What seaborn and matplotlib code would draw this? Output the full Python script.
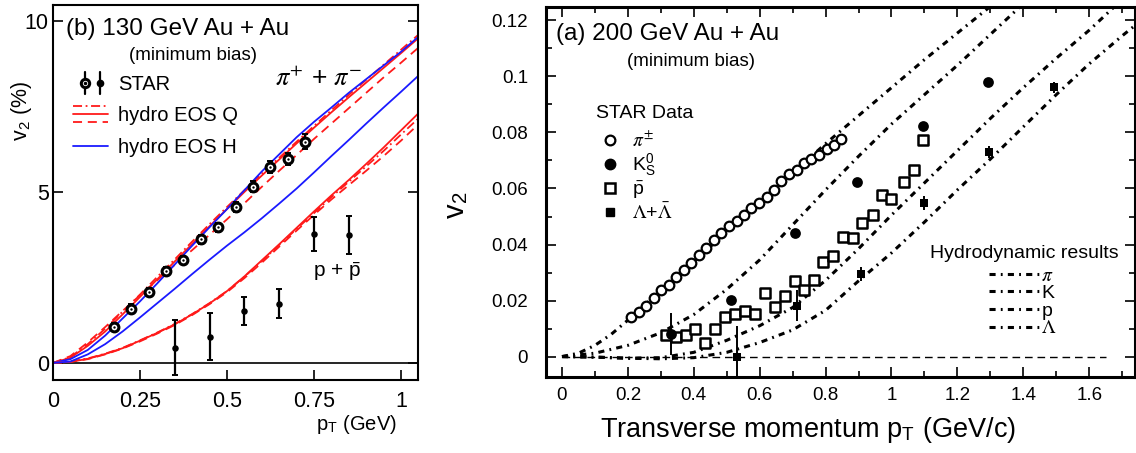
import matplotlib
matplotlib.use("Agg")
import matplotlib.pyplot as plt
import seaborn as sns
from matplotlib.lines import Line2D
from matplotlib.legend_handler import HandlerBase
from matplotlib.ticker import MultipleLocator, FuncFormatter

# ---------------- Panel (b): 130 GeV Au+Au ----------------
pi130_pt = [0.175, 0.225, 0.275, 0.325, 0.375, 0.425, 0.475, 0.525, 0.575, 0.625, 0.675, 0.725]
pi130_v2 = [1.04, 1.59, 2.08, 2.70, 3.00, 3.62, 3.97, 4.56, 5.16, 5.74, 5.96, 6.47]
pi130_err = [0.12, 0.12, 0.12, 0.12, 0.12, 0.13, 0.13, 0.14, 0.15, 0.17, 0.18, 0.22]
p130_pt = [0.35, 0.45, 0.55, 0.65, 0.75, 0.85]
p130_v2 = [0.45, 0.77, 1.52, 1.73, 3.77, 3.74]
p130_err = [0.80, 0.68, 0.41, 0.43, 0.49, 0.56]

grid130 = [0, 0.05, 0.1, 0.15, 0.2, 0.25, 0.3, 0.35, 0.4, 0.45, 0.5,
           0.55, 0.6, 0.65, 0.7, 0.75, 0.8, 0.85, 0.9, 0.95, 1.0, 1.05]
eosH_pi = [0, 0.11, 0.38, 0.80, 1.30, 1.80, 2.33, 2.88, 3.43, 3.97, 4.50,
           5.05, 5.60, 6.10, 6.60, 7.05, 7.47, 7.90, 8.30, 8.70, 9.10, 9.54]
eosQ_pi_solid = [0, 0.15, 0.50, 0.92, 1.42, 1.93, 2.45, 2.97, 3.48, 4.00, 4.50,
                 5.00, 5.48, 5.95, 6.42, 6.88, 7.33, 7.77, 8.20, 8.63, 9.06, 9.50]
eosQ_pi_dash = [0, 0.20, 0.60, 1.05, 1.52, 1.98, 2.42, 2.87, 3.30, 3.75, 4.20,
                4.67, 5.15, 5.62, 6.08, 6.55, 7.00, 7.45, 7.90, 8.35, 8.78, 9.22]
eosQ_pi_dashdot = [0, 0.17, 0.55, 1.00, 1.50, 2.00, 2.52, 3.03, 3.55, 4.06, 4.56,
                   5.05, 5.53, 6.00, 6.47, 6.93, 7.39, 7.84, 8.28, 8.72, 9.16, 9.60]
eosH_p = [0, 0.04, 0.25, 0.55, 0.92, 1.33, 1.75, 2.17, 2.60, 3.02, 3.43,
          3.82, 4.23, 4.66, 5.10, 5.57, 6.05, 6.52, 7.00, 7.47, 7.93, 8.40]
eosQ_p_solid = [0, 0.03, 0.12, 0.26, 0.43, 0.65, 0.88, 1.13, 1.42, 1.74, 2.10,
                2.53, 3.00, 3.47, 3.95, 4.43, 4.90, 5.35, 5.82, 6.30, 6.80, 7.30]
eosQ_p_dash = [0, 0.03, 0.11, 0.25, 0.42, 0.63, 0.86, 1.11, 1.40, 1.72, 2.07,
               2.48, 2.93, 3.40, 3.87, 4.33, 4.78, 5.20, 5.62, 6.05, 6.50, 6.98]
eosQ_p_dashdot = [0, 0.04, 0.13, 0.27, 0.44, 0.66, 0.89, 1.14, 1.43, 1.75, 2.10,
                  2.52, 2.98, 3.45, 3.92, 4.38, 4.85, 5.30, 5.75, 6.20, 6.68, 7.15]

# ---------------- Panel (a): 200 GeV Au+Au ----------------
pi200_pt = [0.21, 0.233, 0.256, 0.279, 0.302, 0.325, 0.347, 0.37, 0.393, 0.416,
            0.438, 0.461, 0.484, 0.507, 0.53, 0.552, 0.575, 0.598, 0.621, 0.644,
            0.666, 0.689, 0.712, 0.735, 0.757, 0.78, 0.803, 0.826, 0.848]
pi200_v2 = [0.014, 0.016, 0.018, 0.021, 0.0236, 0.0256, 0.0284, 0.031, 0.0334, 0.0364,
            0.0388, 0.0415, 0.0442, 0.0465, 0.0483, 0.0507, 0.0531, 0.0549, 0.057, 0.0595,
            0.0625, 0.065, 0.0665, 0.069, 0.0705, 0.072, 0.074, 0.0755, 0.0776]
k200_pt = [0.33, 0.514, 0.706, 0.895, 1.095, 1.292]
k200_v2 = [0.0080, 0.0202, 0.0442, 0.0622, 0.0824, 0.0980]
k200_err = [0.0075, 0.0015, 0.0015, 0.0015, 0.0015, 0.0015]
pbar_pt = [0.317, 0.345, 0.376, 0.403, 0.433, 0.464, 0.494, 0.524, 0.555, 0.585,
           0.615, 0.645, 0.676, 0.706, 0.734, 0.764, 0.792, 0.822, 0.852, 0.883,
           0.912, 0.943, 0.972, 0.999, 1.039, 1.068, 1.096]
pbar_v2 = [0.0077, 0.0069, 0.0077, 0.0097, 0.0049, 0.0097, 0.0143, 0.0152, 0.0164, 0.0152,
           0.0227, 0.0176, 0.0217, 0.0268, 0.0236, 0.0274, 0.0338, 0.0358, 0.0428, 0.0424,
           0.0476, 0.0507, 0.0577, 0.0562, 0.0623, 0.0667, 0.0774]
pbar_err = [0.0015] * 27
lam_pt = [0.531, 0.713, 0.907, 1.10, 1.297, 1.494]
lam_v2 = [0.0, 0.0181, 0.0295, 0.055, 0.073, 0.0961]
lam_err = [0.011, 0.0055, 0.0025, 0.0025, 0.002, 0.002]

hydro_pi_pt = [0, 0.05, 0.1, 0.15, 0.2, 0.3, 0.4, 0.5, 0.6, 0.7, 0.8, 0.9, 1.0, 1.1, 1.2, 1.3, 1.4]
hydro_pi_v2 = [0, 0.0012, 0.004, 0.008, 0.013, 0.0235, 0.034, 0.0445, 0.055, 0.0655,
               0.076, 0.086, 0.096, 0.106, 0.1155, 0.125, 0.1345]
hydro_K_pt = [0, 0.1, 0.2, 0.3, 0.4, 0.5, 0.6, 0.7, 0.8, 0.9, 1.0, 1.1, 1.2, 1.3, 1.4, 1.5]
hydro_K_v2 = [0, 0.0012, 0.004, 0.0085, 0.015, 0.024, 0.0345, 0.047, 0.0595, 0.0715,
              0.083, 0.0935, 0.104, 0.115, 0.126, 0.137]
hydro_p_pt = [0, 0.1, 0.2, 0.3, 0.4, 0.5, 0.6, 0.7, 0.8, 0.9, 1.0, 1.1, 1.2, 1.3, 1.4, 1.5, 1.6, 1.7, 1.8]
hydro_p_v2 = [0, -0.0002, -0.0006, -0.0004, 0.0015, 0.0058, 0.011, 0.0175, 0.0272, 0.0385,
              0.0505, 0.062, 0.0735, 0.085, 0.096, 0.1065, 0.1165, 0.1275, 0.138]
hydro_L_pt = [0, 0.1, 0.2, 0.3, 0.4, 0.5, 0.6, 0.7, 0.8, 0.9, 1.0, 1.1, 1.2, 1.3, 1.4, 1.5, 1.6, 1.7, 1.8]
hydro_L_v2 = [0, -0.0002, -0.0006, -0.0008, -0.0004, 0.0015, 0.005, 0.0095, 0.0165, 0.027,
              0.037, 0.048, 0.0595, 0.0705, 0.082, 0.0935, 0.1045, 0.1145, 0.124]
zero_line_range = [0.0, 1.65]

star_labels = [r'$\pi^{\pm}$', r'K$^{\mathregular{0}}_{\mathregular{S}}$',
               r'$\bar{\mathregular{p}}$', r'$\Lambda$+$\bar{\Lambda}$']
hydro_labels = [r'$\pi$', 'K', 'p', r'$\Lambda$']

# ---------------- style ----------------
sns.set_theme(style="ticks", rc={"axes.edgecolor": "black", "text.color": "black",
                                  "xtick.color": "black", "ytick.color": "black",
                                  "axes.labelcolor": "black"})
plt.rcParams["font.family"] = ["Liberation Sans", "DejaVu Sans"]
plt.rcParams["mathtext.fontset"] = "stix"

RED = "#ff1a1a"
BLUE = "#1a1aff"
W, H = 1136, 453
fig = plt.figure(figsize=(W / 100, H / 100), dpi=100)
fig.patch.set_facecolor("white")


def fx(x):
    return x / W


def fy(y):
    return 1 - y / H


axL = fig.add_axes([fx(53), fy(380), 365 / W, 375 / H])
axR = fig.add_axes([fx(546), fy(377), 589 / W, 370 / H])
for ax in (axL, axR):
    ax.set_facecolor("white")

DASH_RED = (0, (5, 3.2))
DASHDOT_RED = (0, (5, 2, 1, 2))

# ---- left panel curves ----
axL.axhline(0, color="black", lw=1.2, zorder=1)
for yv, col, ls in [(eosQ_pi_dashdot, RED, DASHDOT_RED), (eosQ_pi_dash, RED, DASH_RED),
                    (eosQ_pi_solid, RED, "-"), (eosH_pi, BLUE, "-"),
                    (eosQ_p_dashdot, RED, DASHDOT_RED), (eosQ_p_dash, RED, DASH_RED),
                    (eosQ_p_solid, RED, "-"), (eosH_p, BLUE, "-")]:
    sns.lineplot(x=grid130, y=yv, ax=axL, color=col, lw=1.3, linestyle=ls,
                 errorbar=None, zorder=2)

axL.errorbar(pi130_pt, pi130_v2, yerr=pi130_err, fmt="none", ecolor="black",
             elinewidth=1.6, capsize=2, capthick=1.4, zorder=3)
axL.errorbar(p130_pt, p130_v2, yerr=p130_err, fmt="none", ecolor="black",
             elinewidth=1.6, capsize=2, capthick=1.4, zorder=3)
sns.scatterplot(x=pi130_pt, y=pi130_v2, ax=axL, marker="o", s=40, color="white",
                edgecolor="black", linewidth=2.2, zorder=4)
sns.scatterplot(x=pi130_pt, y=pi130_v2, ax=axL, marker="o", s=3, color="black",
                edgecolor="black", linewidth=0, zorder=5)
sns.scatterplot(x=p130_pt, y=p130_v2, ax=axL, marker="o", s=22, color="black",
                edgecolor="black", linewidth=0, zorder=4)

axL.set_xlim(0, 1.049)
axL.set_ylim(-0.5, 10.47)
axL.xaxis.set_major_locator(MultipleLocator(0.25))
axL.yaxis.set_major_locator(MultipleLocator(5))
fmt = FuncFormatter(lambda v, p: f"{v:g}")
axL.xaxis.set_major_formatter(fmt)
axL.yaxis.set_major_formatter(fmt)
axL.tick_params(direction="in", length=7, width=1.2, right=True, top=False,
                labelsize=15.5)
axL.tick_params(axis="x", pad=8)
axL.tick_params(axis="y", pad=3)
for s in axL.spines.values():
    s.set_linewidth(1.5)
axL.set_xlabel("")
axL.set_ylabel("")


# ---- legend handlers ----
class StackHandle:
    def __init__(self, lines):
        self.lines = lines


class HandlerStack(HandlerBase):
    def __init__(self, gap):
        super().__init__()
        self.gap = gap

    def create_artists(self, legend, orig, xd, yd, w, h, fs, trans):
        arts = []
        n = len(orig.lines)
        yc = h / 2 - yd
        for i, src in enumerate(orig.lines):
            y = yc + ((n - 1) / 2 - i) * self.gap
            ln = Line2D([-xd, w - xd], [y, y])
            ln.update_from(src)
            ln.set_transform(trans)
            arts.append(ln)
        return arts


class StarHandle:
    pass


class HandlerStar(HandlerBase):
    def create_artists(self, legend, orig, xd, yd, w, h, fs, trans):
        yc = h / 2 - yd
        x1 = -xd + 0.34 * w
        x2 = -xd + 0.77 * w
        e = 8
        arts = [Line2D([x1, x1], [yc - e, yc + e], color="black", lw=1.6),
                Line2D([x2, x2], [yc - e, yc + e], color="black", lw=1.6),
                Line2D([x1], [yc], marker="o", ms=6, mfc="white", mec="black", mew=2.2, ls="none"),
                Line2D([x1], [yc], marker="o", ms=1.5, mfc="black", mec="black", ls="none"),
                Line2D([x2], [yc], marker="o", ms=4.5, mfc="black", mec="black", ls="none")]
        for a in arts:
            a.set_transform(trans)
        return arts


eosq_handle = StackHandle([Line2D([], [], color=RED, lw=1.3, linestyle=DASHDOT_RED),
                           Line2D([], [], color=RED, lw=1.3, linestyle="-"),
                           Line2D([], [], color=RED, lw=1.3, linestyle=DASH_RED)])
eosh_handle = Line2D([], [], color=BLUE, lw=1.3)
legL = axL.legend([StarHandle(), eosq_handle, eosh_handle],
                  ["STAR", "hydro EOS Q", "hydro EOS H"],
                  handler_map={StackHandle: HandlerStack(5.8), StarHandle: HandlerStar()},
                  loc="upper left", bbox_to_anchor=(20 / 365, 1 - 70 / 375),
                  frameon=False, borderpad=0, borderaxespad=0, handlelength=1.75,
                  handletextpad=0.5, labelspacing=0.62, fontsize=14.5)

# ---- left panel text ----
fig.text(fx(66), fy(29), "(b) 130 GeV Au + Au", fontsize=17.5, ha="left", va="center")
fig.text(fx(193), fy(56), "(minimum bias)", fontsize=13.5, ha="center", va="center")
fig.text(fx(319), fy(79), r"$\pi^{+}$ + $\pi^{-}$", fontsize=19, ha="center", va="center")
fig.text(fx(337), fy(272), r"p + $\bar{\mathregular{p}}$", fontsize=15, ha="center", va="center")
fig.text(fx(397), fy(425), r"p$_{\mathregular{T}}$ (GeV)", fontsize=14.5, ha="right", va="center")
fig.text(fx(21), fy(111), r"v$_{\mathregular{2}}$ (%)", fontsize=15.5, ha="center", va="center",
         rotation=90)

# ---- right panel curves ----
DASHDOT_K = (0, (2, 1.7, 0.6, 1.7))
for xv, yv in [(hydro_pi_pt, hydro_pi_v2), (hydro_K_pt, hydro_K_v2),
               (hydro_p_pt, hydro_p_v2), (hydro_L_pt, hydro_L_v2)]:
    sns.lineplot(x=xv, y=yv, ax=axR, color="black", lw=2.2, linestyle=DASHDOT_K,
                 errorbar=None, zorder=2)
axR.hlines(0, zero_line_range[0], zero_line_range[1], colors="black",
           linestyles=(0, (5.5, 3.5)), lw=1.0, zorder=1)

axR.errorbar(k200_pt, k200_v2, yerr=k200_err, fmt="none", ecolor="black", elinewidth=1.4, zorder=3)
axR.errorbar(pbar_pt, pbar_v2, yerr=pbar_err, fmt="none", ecolor="black", elinewidth=1.4, zorder=3)
axR.errorbar(lam_pt, lam_v2, yerr=lam_err, fmt="none", ecolor="black", elinewidth=1.4, zorder=3)

sns.scatterplot(x=pi200_pt, y=pi200_v2, ax=axR, marker="o", s=48, color="white",
                edgecolor="black", linewidth=1.6, zorder=4)
sns.scatterplot(x=pbar_pt, y=pbar_v2, ax=axR, marker="s", s=50, color="white",
                edgecolor="black", linewidth=1.8, zorder=4)
sns.scatterplot(x=k200_pt, y=k200_v2, ax=axR, marker="o", s=60, color="black",
                edgecolor="black", linewidth=0, zorder=5)
sns.scatterplot(x=lam_pt, y=lam_v2, ax=axR, marker="s", s=38, color="black",
                edgecolor="black", linewidth=0, zorder=5)

axR.set_xlim(-0.0485, 1.739)
axR.set_ylim(-0.0073, 0.1248)
axR.xaxis.set_major_locator(MultipleLocator(0.2))
axR.xaxis.set_minor_locator(MultipleLocator(0.1))
axR.yaxis.set_major_locator(MultipleLocator(0.02))
axR.yaxis.set_minor_locator(MultipleLocator(0.01))
axR.xaxis.set_major_formatter(fmt)
axR.yaxis.set_major_formatter(fmt)
axR.tick_params(which="both", direction="in", top=True, right=True, width=1.2,
                labelsize=13.5)
axR.tick_params(which="major", length=7.5)
axR.tick_params(which="minor", length=4.5)
axR.tick_params(axis="x", pad=7)
axR.tick_params(axis="y", pad=13)
for s in axR.spines.values():
    s.set_linewidth(2.2)
axR.set_xlabel("")
axR.set_ylabel("")

star_handles = [Line2D([], [], marker="o", ls="none", ms=7, mfc="white", mec="black", mew=1.6),
                Line2D([], [], marker="o", ls="none", ms=7.5, mfc="black", mec="black"),
                Line2D([], [], marker="s", ls="none", ms=7, mfc="white", mec="black", mew=1.8),
                Line2D([], [], marker="s", ls="none", ms=6, mfc="black", mec="black")]
legS = axR.legend(star_handles, star_labels, loc="upper left",
                  bbox_to_anchor=((600 - 546) / 590, 1 - (131 - 7) / 370),
                  frameon=False, borderpad=0, borderaxespad=0, handlelength=1.0,
                  handletextpad=0.65, labelspacing=0.05, fontsize=14)
axR.add_artist(legS)
hydro_handles = [Line2D([], [], color="black", lw=2.2, linestyle=DASHDOT_K) for _ in range(4)]
legH = axR.legend(hydro_handles, hydro_labels, loc="upper left",
                  bbox_to_anchor=((990 - 546) / 590, 1 - (267 - 7) / 370),
                  frameon=False, borderpad=0, borderaxespad=0, handlelength=2.58,
                  handletextpad=0.1, labelspacing=0.0, fontsize=14)

fig.text(fx(556), fy(34), "(a) 200 GeV Au + Au", fontsize=17.5, ha="left", va="center")
fig.text(fx(691), fy(61), "(minimum bias)", fontsize=13.5, ha="center", va="center")
fig.text(fx(596), fy(114), "STAR Data", fontsize=14, ha="left", va="center")
fig.text(fx(930), fy(254), "Hydrodynamic results", fontsize=14, ha="left", va="center")
fig.text(fx(456), fy(205), r"v$_{\mathregular{2}}$", fontsize=21, ha="center", va="center", rotation=90)
fig.text(fx(808), fy(430), r"Transverse momentum p$_{\mathregular{T}}$ (GeV/c)", fontsize=19.5,
         ha="center", va="center")

fig.savefig("out.png", dpi=100, facecolor="white")
